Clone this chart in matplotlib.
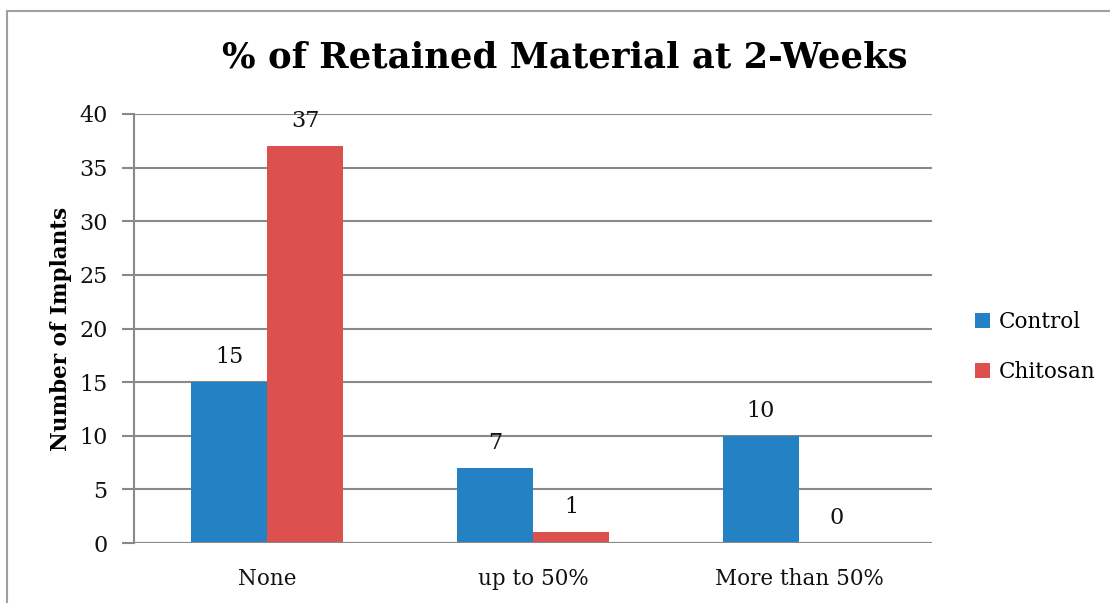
import matplotlib
matplotlib.use("Agg")
import matplotlib.pyplot as plt
import numpy as np
from matplotlib.patches import Rectangle

categories = ["None", "up to 50%", "More than 50%"]
control = [15, 7, 10]
chitosan = [37, 1, 0]
series_names = ["Control", "Chitosan"]
yticks = [0, 5, 10, 15, 20, 25, 30, 35, 40]
title = "% of Retained Material at 2-Weeks"
ylabel = "Number of Implants"

blue = "#2481C3"
red = "#DC504E"
grid = "#898989"
font = "DejaVu Serif"

fig = plt.figure(figsize=(11.10, 6.03), dpi=100)
fig.patches.append(Rectangle((7/1110, -0.1), 1.2, 1 - 11/603 + 0.1,
                             transform=fig.transFigure, fill=False,
                             edgecolor="#A0A0A0", linewidth=1.5))
ax = fig.add_axes([134/1110, 1 - 543/603, (932 - 134)/1110, (543 - 114)/603])

x = np.arange(len(categories))
w = 0.286
b1 = ax.bar(x - w/2, control, w, color=blue, label=series_names[0], zorder=3)
b2 = ax.bar(x + w/2, chitosan, w, color=red, label=series_names[1], zorder=3)

for bars, vals in ((b1, control), (b2, chitosan)):
    for r, v in zip(bars, vals):
        ax.annotate(str(v), (r.get_x() + r.get_width()/2, v),
                    xytext=(0, 18), textcoords="offset points",
                    ha="center", va="center", fontsize=16, family=font,
                    color="#111111")

ax.set_xlim(-0.5, 2.5)
ax.set_ylim(0, 40)
ax.set_yticks(yticks)
ax.set_xticks(x)
ax.set_xticklabels(categories)
ax.yaxis.grid(True, color=grid, linewidth=1.5, zorder=0)
ax.set_axisbelow(True)
for s in ["top", "right", "bottom"]:
    ax.spines[s].set_visible(False)
ax.spines["left"].set_color(grid)
ax.spines["left"].set_linewidth(1.5)
ax.axhline(0, color=grid, linewidth=1.5, zorder=4)
ax.tick_params(axis="y", length=9, width=1.5, color=grid, labelsize=16, pad=10)
ax.tick_params(axis="x", length=0, labelsize=15.5, pad=18)
for lab in ax.get_xticklabels() + ax.get_yticklabels():
    lab.set_family(font)
    lab.set_color("#111111")

ax.set_ylabel(ylabel, fontsize=15.5, fontweight="bold", family=font, labelpad=5)
fig.text(565/1110, 1 - 58/603, title, ha="center", va="center",
         fontsize=25.5, fontweight="bold", family=font)

leg = fig.legend(handles=[b1, b2], labels=series_names,
                 loc="center left", bbox_to_anchor=(956/1110, 1 - 347/603),
                 frameon=False, prop={"family": font, "size": 15.5},
                 handlelength=0.7, handleheight=0.7, handletextpad=0.4,
                 labelspacing=1.3)

fig.savefig("out.png", dpi=100)
